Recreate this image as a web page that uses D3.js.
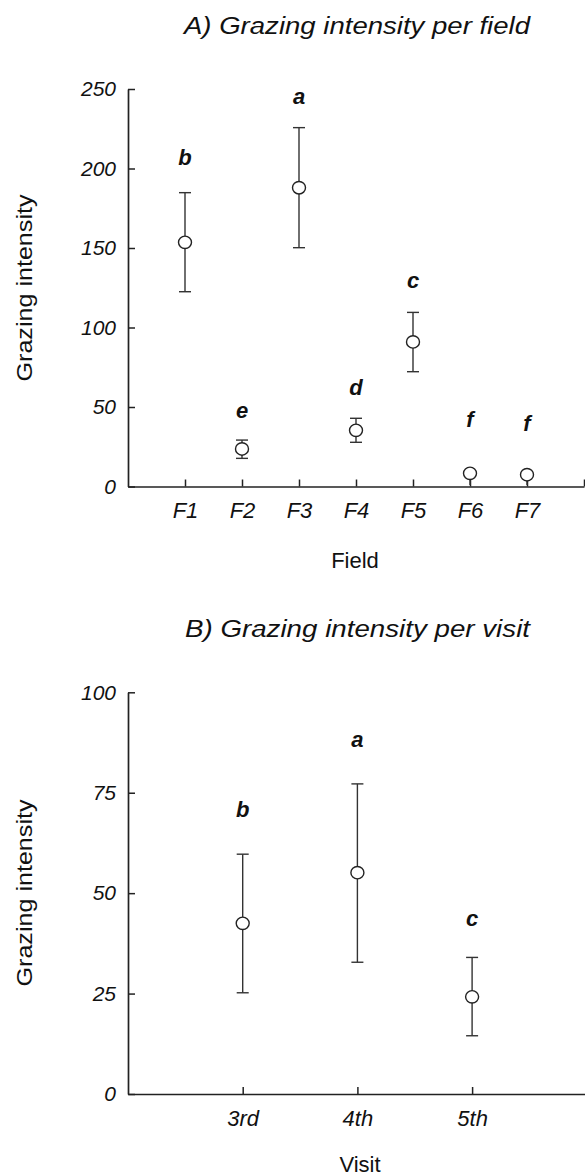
<!DOCTYPE html>
<html>
<head>
<meta charset="utf-8">
<script src="https://cdn.jsdelivr.net/npm/d3@7"></script>
<style>
  body { margin: 0; background: #fff; }
  svg { display: block; font-family: "Liberation Sans", Arial, sans-serif; }
</style>
</head>
<body>
<svg id="chart" width="585" height="1176"></svg>
<script>
// Panel A - grazing intensity per field
const fields = ["F1", "F2", "F3", "F4", "F5", "F6", "F7"];
const fieldMean = [153.6, 23.6, 187.9, 35.3, 90.9, 8.3, 7.4];
const fieldUpper = [184.8, 29.2, 225.7, 42.9, 109.5, 11, 10];
const fieldLower = [122.5, 17.7, 150.2, 27.8, 72.2, 1, 1];
const fieldLetters = ["b", "e", "a", "d", "c", "f", "f"];
const fieldLetterY = [202.2, 43.3, 240.6, 57.5, 124.8, 37.6, 35.1];
const fieldTicks = [0, 50, 100, 150, 200, 250];

// Panel B - grazing intensity per visit
const visits = ["3rd", "4th", "5th"];
const visitMean = [42.5, 55.1, 24.2];
const visitUpper = [59.7, 77.2, 34.0];
const visitLower = [25.2, 32.8, 14.5];
const visitLetters = ["b", "a", "c"];
const visitLetterY = [69.0, 86.3, 41.8];
const visitTicks = [0, 25, 50, 75, 100];

const svg = d3.select("#chart");

function drawPanel(p) {
    const x = d3.scaleLinear().domain([0, p.slots]).range([128, 128 + p.step * p.slots]);
    const y = d3.scaleLinear().domain([0, p.ymax]).range([p.y0, p.ytop]);
    const g = svg.append("g");

    // titulo
    g.append("text")
        .attr("x", p.titleX).attr("y", p.titleY)
        .attr("font-size", 24.5).attr("font-style", "italic").attr("fill", "#111")
        .attr("textLength", p.titleLen).attr("lengthAdjust", "spacingAndGlyphs")
        .text(p.title);

    // eje y
    const ya = g.append("g")
        .attr("transform", "translate(128,0)")
        .call(d3.axisLeft(y).tickValues(p.yticks).tickSizeInner(-7).tickSizeOuter(0).tickPadding(12));
    ya.selectAll("text").attr("font-size", 21).attr("font-style", "italic").attr("fill", "#111")
        .attr("font-family", "Liberation Sans, Arial, sans-serif");

    // eje x
    const xa = g.append("g")
        .attr("transform", `translate(0,${p.y0})`)
        .call(d3.axisBottom(x).tickValues(d3.range(1, p.slots + 1))
            .tickFormat(i => p.cats[i - 1] || "").tickSizeInner(-7).tickSizeOuter(0).tickPadding(16));
    xa.selectAll("text").attr("font-size", 22).attr("font-style", "italic").attr("fill", "#111")
        .attr("font-family", "Liberation Sans, Arial, sans-serif");

    [ya, xa].forEach(a => {
        a.select(".domain").attr("stroke", "#222").attr("stroke-width", 1.7);
        a.selectAll(".tick line").attr("stroke", "#222").attr("stroke-width", 1.5);
    });

    // etiquetas de ejes
    g.append("text")
        .attr("transform", `translate(32,${p.ylabelY}) rotate(-90)`)
        .attr("text-anchor", "middle").attr("font-size", 22).attr("fill", "#111")
        .attr("textLength", 187).attr("lengthAdjust", "spacingAndGlyphs")
        .text("Grazing intensity");
    g.append("text")
        .attr("x", p.xlabelX).attr("y", p.xlabelY)
        .attr("text-anchor", "middle").attr("font-size", 22).attr("fill", "#111")
        .text(p.xlabel);

    const data = p.cats.map((c, i) => ({
        i: i + 1, mean: p.mean[i], hi: p.upper[i], lo: p.lower[i],
        letter: p.letters[i], ly: p.letterY[i]
    }));

    const bars = g.append("g").attr("stroke", "#333").attr("stroke-width", 1.4).attr("fill", "none");
    bars.selectAll(".stem").data(data).join("line")
        .attr("x1", d => x(d.i)).attr("x2", d => x(d.i))
        .attr("y1", d => y(d.lo)).attr("y2", d => y(d.hi));
    bars.selectAll(".capHi").data(data.filter(d => d.hi - d.mean > 4)).join("line")
        .attr("x1", d => x(d.i) - 6).attr("x2", d => x(d.i) + 6)
        .attr("y1", d => y(d.hi)).attr("y2", d => y(d.hi));
    bars.selectAll(".capLo").data(data.filter(d => d.lo > 2)).join("line")
        .attr("x1", d => x(d.i) - 6).attr("x2", d => x(d.i) + 6)
        .attr("y1", d => y(d.lo)).attr("y2", d => y(d.lo));

    g.append("g").selectAll("ellipse").data(data).join("ellipse")
        .attr("cx", d => x(d.i)).attr("cy", d => y(d.mean))
        .attr("rx", 6.5).attr("ry", 6.2)
        .attr("fill", "#fff").attr("stroke", "#222").attr("stroke-width", 1.4);

    g.append("g").selectAll("text").data(data).join("text")
        .attr("x", d => x(d.i)).attr("y", d => y(d.ly))
        .attr("text-anchor", "middle").attr("font-size", 22).attr("fill", "#111")
        .attr("font-weight", "bold").attr("font-style", "italic")
        .text(d => d.letter);
}

drawPanel({
    cats: fields, mean: fieldMean, upper: fieldUpper, lower: fieldLower,
    letters: fieldLetters, letterY: fieldLetterY, yticks: fieldTicks,
    slots: 8, step: 57, ymax: 250, y0: 486.5, ytop: 89,
    title: "A) Grazing intensity per field", titleX: 184, titleY: 34, titleLen: 346,
    ylabelY: 288, xlabel: "Field", xlabelX: 355, xlabelY: 568
});

drawPanel({
    cats: visits, mean: visitMean, upper: visitUpper, lower: visitLower,
    letters: visitLetters, letterY: visitLetterY, yticks: visitTicks,
    slots: 4, step: 114.7, ymax: 100, y0: 1094, ytop: 692.3,
    title: "B) Grazing intensity per visit", titleX: 185, titleY: 637, titleLen: 345,
    ylabelY: 893, xlabel: "Visit", xlabelX: 360, xlabelY: 1172
});
</script>
</body>
</html>
